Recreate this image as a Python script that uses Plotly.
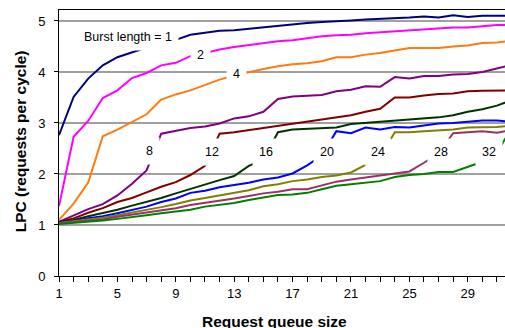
import plotly.graph_objects as go

queue_size = list(range(1, 33))

bl_1 = [2.76, 3.51, 3.87, 4.13, 4.29, 4.39, 4.48, 4.56, 4.63, 4.73, 4.77, 4.81, 4.82, 4.85, 4.88, 4.91,
        4.93, 4.96, 4.98, 4.99, 5.01, 5.03, 5.04, 5.06, 5.07, 5.09, 5.07, 5.11, 5.08, 5.10, 5.10, 5.10]
bl_2 = [1.37, 2.73, 3.04, 3.49, 3.64, 3.88, 3.98, 4.13, 4.18, 4.31, 4.37, 4.44, 4.49, 4.53, 4.57, 4.60,
        4.62, 4.66, 4.70, 4.72, 4.73, 4.76, 4.78, 4.80, 4.81, 4.84, 4.85, 4.87, 4.87, 4.89, 4.92, 4.92]
bl_4 = [1.10, 1.42, 1.83, 2.74, 2.87, 3.02, 3.17, 3.46, 3.56, 3.64, 3.74, 3.85, 3.93, 4.00, 4.06, 4.11,
        4.15, 4.17, 4.21, 4.29, 4.29, 4.34, 4.37, 4.42, 4.47, 4.47, 4.47, 4.50, 4.52, 4.57, 4.58, 4.61]
bl_8 = [1.06, 1.19, 1.31, 1.41, 1.58, 1.81, 2.07, 2.79, 2.84, 2.90, 2.93, 2.99, 3.09, 3.13, 3.22, 3.47,
        3.52, 3.54, 3.55, 3.62, 3.65, 3.72, 3.71, 3.90, 3.87, 3.92, 3.92, 3.95, 3.96, 4.00, 4.07, 4.14]
bl_12 = [1.06, 1.13, 1.24, 1.33, 1.45, 1.53, 1.64, 1.75, 1.84, 1.98, 2.16, 2.79, 2.82, 2.86, 2.90, 2.95,
         2.99, 3.03, 3.07, 3.10, 3.15, 3.22, 3.28, 3.50, 3.50, 3.54, 3.57, 3.58, 3.62, 3.63, 3.63, 3.64]
bl_16 = [1.05, 1.10, 1.17, 1.23, 1.30, 1.38, 1.45, 1.53, 1.62, 1.71, 1.80, 1.88, 1.96, 2.16, 2.28, 2.82,
         2.87, 2.88, 2.89, 2.91, 2.98, 3.00, 3.03, 3.05, 3.07, 3.09, 3.11, 3.15, 3.22, 3.27, 3.34, 3.45]
bl_20 = [1.05, 1.08, 1.13, 1.17, 1.23, 1.29, 1.36, 1.45, 1.52, 1.63, 1.67, 1.74, 1.78, 1.83, 1.89, 1.93,
         2.01, 2.17, 2.36, 2.84, 2.80, 2.91, 2.87, 2.92, 2.91, 2.95, 2.99, 3.00, 3.02, 3.05, 3.05, 3.02]
bl_24 = [1.04, 1.07, 1.10, 1.14, 1.19, 1.24, 1.30, 1.35, 1.41, 1.48, 1.53, 1.58, 1.62, 1.68, 1.76, 1.80,
         1.86, 1.89, 1.94, 1.97, 2.03, 2.18, 2.33, 2.82, 2.82, 2.84, 2.86, 2.87, 2.91, 2.92, 2.92, 2.95]
bl_28 = [1.03, 1.06, 1.08, 1.11, 1.16, 1.20, 1.24, 1.28, 1.33, 1.39, 1.43, 1.47, 1.52, 1.57, 1.62, 1.65,
         1.70, 1.70, 1.77, 1.85, 1.89, 1.93, 1.98, 2.02, 2.05, 2.22, 2.40, 2.80, 2.82, 2.84, 2.81, 2.86]
bl_32 = [1.02, 1.04, 1.06, 1.09, 1.12, 1.15, 1.19, 1.23, 1.26, 1.30, 1.36, 1.39, 1.43, 1.49, 1.54, 1.59,
         1.60, 1.63, 1.70, 1.77, 1.80, 1.83, 1.86, 1.94, 1.98, 2.00, 2.04, 2.04, 2.14, 2.24, 2.42, 2.90]

series = [bl_1, bl_2, bl_4, bl_8, bl_12, bl_16, bl_20, bl_24, bl_28, bl_32]
series_labels = ["Burst length = 1", "2", "4", "8", "12", "16", "20", "24", "28", "32"]
colors = ["#000080", "#FF00FF", "#FF7A10", "#800080", "#800000", "#003300",
          "#0000FF", "#808000", "#993366", "#008000"]

# label anchor positions (data coordinates)
label_x = [5.76, 10.66, 13.16, 7.18, 11.46, 15.16, 19.34, 22.87, 27.14, 30.47]
label_y = [4.68, 4.33, 3.96, 2.45, 2.43, 2.43, 2.43, 2.43, 2.43, 2.43]

x_tick_vals = [1, 5, 9, 13, 17, 21, 25, 29]
y_tick_vals = [0, 1, 2, 3, 4, 5]

FONT = "Arial, Liberation Sans, sans-serif"

fig = go.Figure()
for vals, name, col in zip(series, series_labels, colors):
    fig.add_trace(go.Scatter(x=queue_size, y=vals, mode="lines", name=name,
                             line=dict(color=col, width=2), showlegend=False))

annotations = []
for t, lx, ly in zip(series_labels, label_x, label_y):
    annotations.append(dict(x=lx, y=ly, xref="x", yref="y", text=t, showarrow=False,
                            font=dict(family=FONT, size=12.5, color="#000000"),
                            bgcolor="#FFFFFF", borderpad=6, xanchor="center", yanchor="middle"))

annotations.append(dict(x=-0.0874, y=0.5066, xref="paper", yref="paper",
                        text="<b>LPC (requests per cycle)</b>", textangle=-90, showarrow=False,
                        font=dict(family=FONT, size=15.5, color="#000000"),
                        xanchor="center", yanchor="middle"))
annotations.append(dict(x=0.484, y=-0.1715, xref="paper", yref="paper",
                        text="<b>Request queue size</b>", showarrow=False,
                        font=dict(family=FONT, size=15.5, color="#000000"),
                        xanchor="center", yanchor="middle"))

fig.update_layout(
    width=505, height=328,
    margin=dict(l=59, r=0, t=10, b=52),
    paper_bgcolor="#FFFFFF", plot_bgcolor="#FFFFFF",
    font=dict(family=FONT, size=13, color="#000000"),
    annotations=annotations,
    hovermode=False,
    xaxis=dict(range=[1, 31.55], tickmode="array", tickvals=x_tick_vals,
               ticktext=[str(v) for v in x_tick_vals],
               ticks="outside", ticklen=5, tickcolor="#000000", tickwidth=1,
               minor=dict(dtick=1, tick0=1, ticks="outside", ticklen=5, tickcolor="#000000", showgrid=False),
               showline=True, linecolor="#000000", linewidth=1, mirror=True,
               showgrid=False, zeroline=False, tickfont=dict(size=13)),
    yaxis=dict(range=[0, 5.215], tickmode="array", tickvals=y_tick_vals,
               ticks="outside", ticklen=4, tickcolor="#000000",
               showline=True, linecolor="#000000", linewidth=1,
               showgrid=True, gridcolor="#A0A0A0", gridwidth=1.5,
               zeroline=False, tickfont=dict(size=13), ticklabelstandoff=6),
)

fig.write_html("out.html",
               config={"displayModeBar": False, "staticPlot": True},
               post_script="document.body.style.margin='0px';document.body.style.padding='0px';")
